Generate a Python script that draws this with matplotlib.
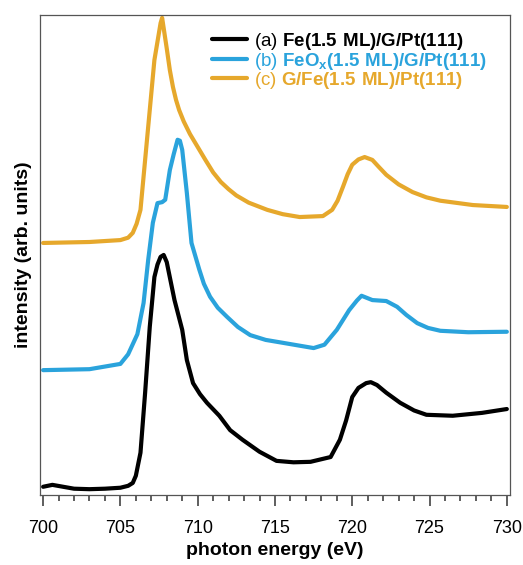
"""
Fe L-edge XAS spectra for Fe / FeOx on graphene/Pt(111).
"""
import matplotlib
matplotlib.use("Agg")
import matplotlib.pyplot as plt
from matplotlib.ticker import MultipleLocator

plt.rcParams['font.family'] = ['Liberation Sans', 'DejaVu Sans']
plt.rcParams['mathtext.fontset'] = 'custom'
plt.rcParams['mathtext.rm'] = 'Liberation Sans'
plt.rcParams['mathtext.bf'] = 'Liberation Sans:bold'

# (a) Fe(1.5 ML)/G/Pt(111)
energy_a = [700, 700.6, 701.3, 702, 703, 704, 705, 705.5, 705.8, 706.0, 706.3,
            706.6, 706.9, 707.2, 707.4, 707.6, 707.8, 708.0, 708.1, 708.5,
            709.0, 709.3, 709.7, 710.15, 710.6, 711.4, 712.1, 712.9, 714.0,
            715.1, 716.2, 717.3, 718.6, 719.2, 719.6, 720.0, 720.4, 720.9,
            721.2, 721.6, 722.2, 723.1, 724.0, 724.8, 726.5, 728.4, 730]
intensity_a = [1.7, 2.1, 1.7, 1.3, 1.2, 1.3, 1.5, 1.9, 2.5, 4.0, 8.8,
               21.3, 35.0, 45.4, 48.0, 49.6, 50.0, 48.5, 46.9, 40.6,
               34.4, 28.1, 23.3, 21.0, 19.2, 16.5, 13.5, 11.5, 9.0,
               7.1, 6.8, 6.9, 7.9, 11.5, 15.5, 20.4, 22.3, 23.3,
               23.5, 22.9, 21.3, 19.2, 17.6, 16.7, 16.5, 17.1, 17.9]

# (b) FeOx(1.5 ML)/G/Pt(111)
energy_b = [700, 703, 705, 705.5, 706.1, 706.5, 706.8, 707.1, 707.4, 707.7,
            707.9, 708.2, 708.45, 708.7, 708.85, 709.0, 709.3, 709.6, 710.1,
            710.4, 710.8, 711.3, 711.9, 712.6, 713.4, 714.4, 715.5, 717.5,
            718.2, 719.0, 719.8, 720.3, 720.6, 721.3, 722.2, 722.9, 723.5,
            724.2, 724.9, 725.7, 727.5, 730]
intensity_b = [26.0, 26.2, 27.3, 29.3, 33.5, 40.0, 49.0, 56.7, 60.8, 61.0,
               61.5, 67.7, 71.0, 74.0, 73.8, 71.9, 62.9, 52.5, 47.0,
               44.0, 41.3, 39.0, 37.1, 35.0, 33.3, 32.3, 31.7, 30.6,
               31.3, 34.4, 38.5, 40.5, 41.5, 40.6, 40.4, 39.2, 37.5,
               35.8, 34.8, 34.2, 33.9, 34.0]

# (c) G/Fe(1.5 ML)/Pt(111)
energy_c = [700, 703, 705, 705.5, 705.8, 706.05, 706.3, 706.6, 706.9, 707.2,
            707.6, 707.7, 708.0, 708.2, 708.4, 708.6, 708.8, 709.1, 709.5,
            710.0, 710.5, 711.0, 711.5, 712.0, 712.5, 713.3, 714.5, 715.5,
            716.6, 718.1, 718.7, 719.05, 719.4, 719.7, 720.0, 720.4, 720.8,
            721.3, 721.7, 722.2, 723.0, 723.9, 724.8, 725.7, 727.8, 730]
intensity_c = [52.5, 52.7, 53.1, 53.6, 54.6, 56.5, 59.4, 69.8, 80.2, 90.6,
               98.3, 99.4, 93.0, 88.5, 85.0, 82.3, 80.2, 77.8, 75.2,
               72.5, 69.8, 67.2, 65.2, 63.7, 62.4, 60.9, 59.4, 58.5,
               57.9, 58.1, 59.4, 61.3, 64.2, 66.8, 68.8, 69.9, 70.4,
               69.8, 68.4, 66.7, 64.7, 63.1, 62.0, 61.3, 60.4, 60.0]

labels = [r"(a) $\mathbf{Fe(1.5\ ML)/G/Pt(111)}$",
          r"(b) $\mathbf{FeO_x(1.5\ ML)/G/Pt(111)}$",
          r"(c) $\mathbf{G/Fe(1.5\ ML)/Pt(111)}$"]
colors = ['#000000', '#2aa3dc', '#e6a82c']

fig = plt.figure(figsize=(5.23, 5.65), dpi=100)
ax = fig.add_axes([0.0765, 0.124, 0.8985, 0.8495])

for x, y, lab, col in zip([energy_a, energy_b, energy_c],
                          [intensity_a, intensity_b, intensity_c],
                          labels, colors):
    ax.plot(x, y, color=col, lw=3, label=lab,
            solid_capstyle='round', solid_joinstyle='round')

ax.set_xlim(699.8, 730.2)
ax.set_ylim(0, 100)
ax.set_yticks([])
ax.xaxis.set_major_locator(MultipleLocator(5))
ax.xaxis.set_minor_locator(MultipleLocator(1))
ax.tick_params(axis='x', which='major', direction='out', length=8, width=1.1,
               labelsize=13, pad=10, color='#333333')
ax.tick_params(axis='x', which='minor', direction='out', length=4.5, width=1.1,
               color='#333333')
for sp in ax.spines.values():
    sp.set_color('#555555')
    sp.set_linewidth(0.9)

ax.set_xlabel('photon energy (eV)', fontsize=14, fontweight='bold', labelpad=4)
ax.set_ylabel('intensity (arb. units)', fontsize=14, fontweight='bold', labelpad=6)

ax.legend(loc='upper right', bbox_to_anchor=(0.975, 0.99), frameon=False,
          fontsize=13.5, labelcolor='linecolor', handlelength=1.85,
          handletextpad=0.4, labelspacing=-0.08, borderaxespad=0.2)

fig.savefig('out.png', dpi=100)
